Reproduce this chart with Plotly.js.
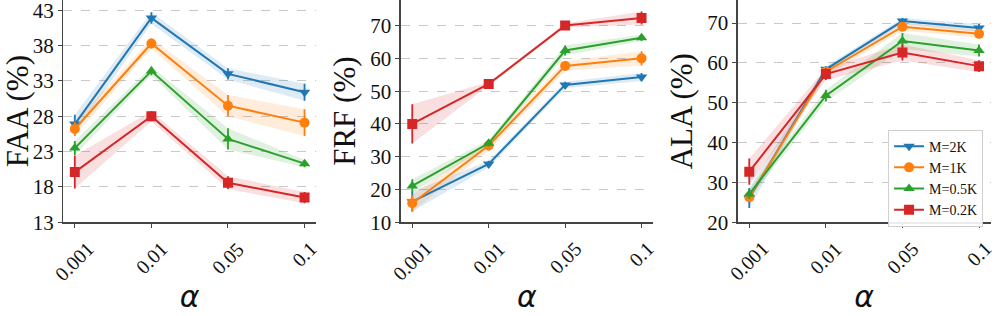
<!DOCTYPE html>
<html><head><meta charset="utf-8">
<script src="https://cdn.plot.ly/plotly-3.0.1.min.js"></script>
<style>html,body{margin:0;padding:0;background:#fff}#c{width:997px;height:316px}</style>
</head><body><div id="c"></div>
<script>
const alphas = ['0.001','0.01','0.05','0.1'];
const seriesNames = ['M=2K','M=1K','M=0.5K','M=0.2K'];
const colors = ['#1f77b4','#ff7f0e','#2ca02c','#d62728'];
const bandColors = ['rgba(31,119,180,0.15)','rgba(255,127,14,0.15)','rgba(44,160,44,0.15)','rgba(214,39,40,0.15)'];
const symbols = ['triangle-down','circle','triangle-up','square'];

// FAA
const faaMean = [[26.9,41.9,34.0,31.4],[26.2,38.3,29.5,27.1],[23.5,34.4,24.8,21.3],[20.1,28.0,18.6,16.5]];
const faaStd  = [[1.3,0.8,0.8,1.2],[1.0,0.7,1.5,1.9],[1.0,0.6,1.5,0.5],[2.3,0.7,0.9,0.8]];
// FRF
const frfMean = [[16.3,27.8,51.9,54.3],[15.8,33.4,57.7,60.0],[21.1,34.1,62.4,66.3],[40.0,52.2,70.0,72.3]];
const frfStd  = [[3.0,1.0,1.0,1.2],[2.5,1.5,1.5,2.2],[2.0,1.0,1.5,1.0],[6.0,0.6,0.6,2.0]];
// ALA
const alaMean = [[26.1,58.4,70.5,68.8],[26.3,57.8,69.1,67.3],[27.1,51.8,65.5,63.1],[32.7,57.2,62.6,59.2]];
const alaStd  = [[2.5,0.8,0.8,1.0],[1.0,1.0,1.0,1.0],[1.2,1.5,2.0,1.5],[3.3,1.5,2.0,1.5]];

const panels = [
  {mean: faaMean, std: faaStd, title: 'FAA (%)', range: [13, 44.45], ticks: [13,18,23,28,33,38,43], dom: [0.0635, 0.317]},
  {mean: frfMean, std: frfStd, title: 'FRF (%)', range: [10, 77.8], ticks: [10,20,30,40,50,60,70], dom: [0.402, 0.655]},
  {mean: alaMean, std: alaStd, title: 'ALA (%)', range: [20, 75.8], ticks: [20,30,40,50,60,70], dom: [0.740, 0.9935]}
];

const yDomBottom = 0.2965;
const traces = [];
const annotations = [];
const layout = {
  width: 997, height: 316,
  margin: {l:0, r:0, t:0, b:0},
  paper_bgcolor: '#fff', plot_bgcolor: '#fff',
  font: {family: 'Liberation Serif, serif', color: '#111'},
  showlegend: true,
  legend: {x: 0.986, xanchor: 'right', y: 0.59, yanchor: 'top', traceorder: 'normal',
           bgcolor: 'rgba(255,255,255,0.9)', bordercolor: '#d0d0d0', borderwidth: 1,
           font: {family: 'Liberation Serif, serif', size: 14, color: '#111'},
           tracegroupgap: 0, itemwidth: 30},
  annotations: annotations
};

panels.forEach((p, k) => {
  const ax = k === 0 ? '' : String(k + 1);
  const xa = 'x' + ax, ya = 'y' + ax;
  for (let s = 0; s < 4; s++) {
    const up = p.mean[s].map((v, i) => v + p.std[s][i]);
    const lo = p.mean[s].map((v, i) => v - p.std[s][i]);
    traces.push({x: alphas, y: up, xaxis: xa, yaxis: ya, mode: 'lines', line: {width: 0, color: bandColors[s]}, showlegend: false, hoverinfo: 'skip'});
    traces.push({x: alphas, y: lo, xaxis: xa, yaxis: ya, mode: 'lines', line: {width: 0, color: bandColors[s]}, fill: 'tonexty', fillcolor: bandColors[s], showlegend: false, hoverinfo: 'skip'});
  }
  for (let s = 0; s < 4; s++) {
    traces.push({
      x: alphas, y: p.mean[s], xaxis: xa, yaxis: ya, mode: 'lines+markers', name: seriesNames[s],
      line: {color: colors[s], width: 2},
      marker: {symbol: symbols[s], size: 10, color: colors[s]},
      error_y: {type: 'data', array: p.std[s], visible: true, thickness: 1.8, width: 0, color: colors[s]},
      showlegend: k === 2
    });
  }
  // rotated tick labels, centred under each tick (category index positions)
  alphas.forEach((a, i) => {
    annotations.push({x: i, xref: xa, y: yDomBottom, yref: 'paper', yshift: -14,
      text: a, showarrow: false, textangle: -45, xanchor: 'center', yanchor: 'top',
      borderpad: 0, font: {family: 'Liberation Serif, serif', size: 20, color: '#111'}});
  });
  layout['xaxis' + ax] = {
    domain: p.dom, anchor: ya, type: 'category', range: [-0.15, 3.15],
    showgrid: false, zeroline: false, showline: true, linecolor: '#444', linewidth: 1.3,
    ticks: 'outside', ticklen: 4, tickcolor: '#444', showticklabels: false,
    title: {text: 'α', standoff: 59, font: {family: 'DejaVu Sans, sans-serif', size: 30, style: 'italic', color: '#111'}},
    automargin: false
  };
  layout['yaxis' + ax] = {
    domain: [yDomBottom, 1], anchor: xa, range: p.range, tickvals: p.ticks,
    showgrid: true, gridcolor: '#c8c8c8', griddash: 'dash', gridwidth: 1,
    zeroline: false, showline: true, linecolor: '#444', linewidth: 1.3,
    ticks: 'outside', ticklen: 4, tickcolor: '#444', ticklabeloverflow: 'allow',
    tickfont: {family: 'Liberation Serif, serif', size: 21, color: '#111'},
    title: {text: p.title, standoff: 5, font: {family: 'Liberation Serif, serif', size: 31, color: '#111'}},
    automargin: false
  };
});

Plotly.newPlot('c', traces, layout, {displayModeBar: false, staticPlot: true});
</script></body></html>
